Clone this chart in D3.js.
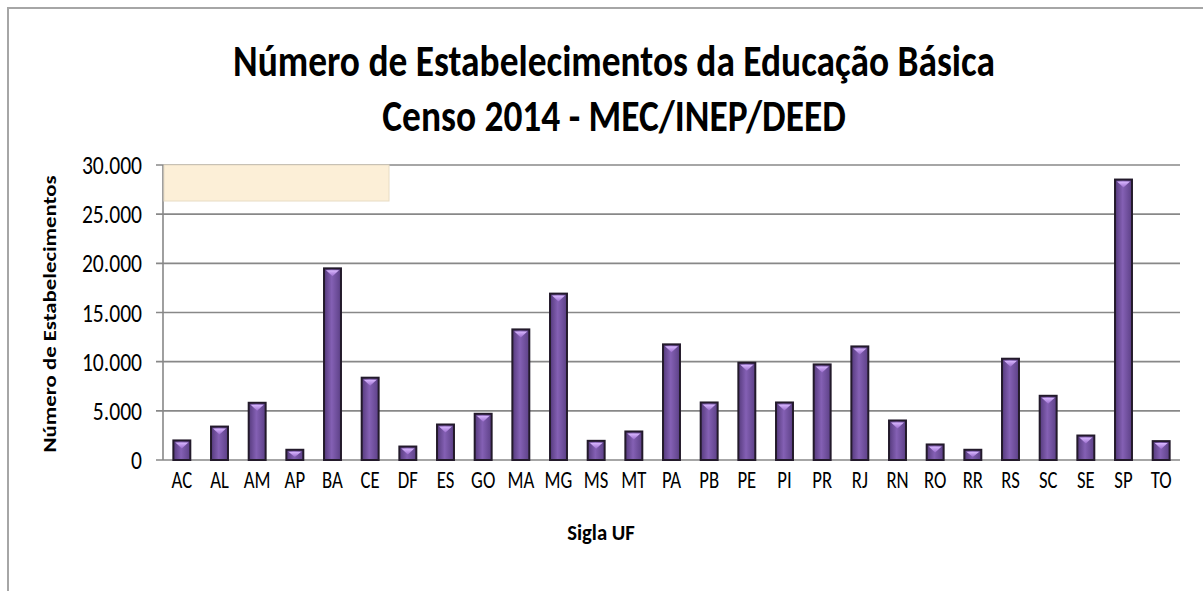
<!DOCTYPE html>
<html>
<head>
<meta charset="utf-8">
<script src="https://cdn.jsdelivr.net/npm/d3@7"></script>
<style>
  body { margin: 0; background: #fff; }
  svg text { font-family: Carlito, "Liberation Sans Narrow", "Open Sans", sans-serif; fill: #000; }
</style>
</head>
<body>
<div class="chart"></div>
<script>
// dados (Censo 2014)
var ufs = ["AC","AL","AM","AP","BA","CE","DF","ES","GO","MA","MG","MS","MT","PA",
           "PB","PE","PI","PR","RJ","RN","RO","RR","RS","SC","SE","SP","TO"];
var estab = [1990, 3400, 5820, 1040, 19490, 8370, 1370, 3610, 4700, 13280, 16920, 1950, 2900, 11760,
             5850, 9890, 5850, 9720, 11550, 4020, 1580, 1040, 10300, 6530, 2490, 28520, 1920];
var yTicks = [0, 5000, 10000, 15000, 20000, 25000, 30000];
var titleLines = ["Número de Estabelecimentos da Educação Básica", "Censo 2014 - MEC/INEP/DEED"];

var W = 1203, H = 591;
var margin = {top: 165, right: 23, bottom: 131, left: 163},
    width = W - margin.left - margin.right,
    height = H - margin.top - margin.bottom;

// o texto original esta esticado na vertical
function squeeze(sel, px, py, sx) {
  sel.attr("transform", "translate(" + px + "," + py + ") scale(" + sx + ",1)");
}

var svg = d3.select(".chart").append("svg")
    .attr("width", W)
    .attr("height", H);

// moldura
svg.append("path")
    .attr("d", "M8," + H + "V8H" + W)
    .attr("fill", "none")
    .attr("stroke", "#a6a6a6")
    .attr("stroke-width", 2);

var defs = svg.append("defs");
var grad = defs.append("linearGradient").attr("id", "barGrad")
    .attr("x1", "0%").attr("x2", "100%").attr("y1", "0%").attr("y2", "0%");
grad.append("stop").attr("offset", "0%").attr("stop-color", "#553a7c");
grad.append("stop").attr("offset", "45%").attr("stop-color", "#8460b4");
grad.append("stop").attr("offset", "100%").attr("stop-color", "#5c4086");
var hi = defs.append("linearGradient").attr("id", "hiGrad")
    .attr("x1", "0%").attr("x2", "0%").attr("y1", "0%").attr("y2", "100%");
hi.append("stop").attr("offset", "0%").attr("stop-color", "#d9b8ff");
hi.append("stop").attr("offset", "100%").attr("stop-color", "#9a6ccc");

var g = svg.append("g")
    .attr("transform", "translate(" + margin.left + "," + margin.top + ")");

var x = d3.scaleBand()
    .domain(ufs)
    .range([0, width])
    .paddingInner(0.55)
    .paddingOuter(0.275);

var y = d3.scaleLinear()
    .domain([0, 30000])
    .range([height, 0]);

var fmt = function(d){ return d3.format(",")(d).replace(/,/g, "."); };

// linhas de grade
g.append("g").attr("class", "grid")
    .selectAll("line")
    .data(yTicks)
  .enter().append("line")
    .attr("x1", -7)
    .attr("x2", width)
    .attr("y1", function(d){ return y(d); })
    .attr("y2", function(d){ return y(d); })
    .attr("stroke", "#888")
    .attr("stroke-width", 1.6);

// eixo y
g.append("line")
    .attr("x1", 0).attr("x2", 0)
    .attr("y1", 0).attr("y2", height)
    .attr("stroke", "#888")
    .attr("stroke-width", 1.6);

g.selectAll(".ytick")
    .data(yTicks)
  .enter().append("text")
    .attr("class", "ytick")
    .attr("dy", "0.35em")
    .attr("text-anchor", "end")
    .style("font-size", "26px")
    .text(fmt)
    .each(function(d){ squeeze(d3.select(this), -21, y(d), 0.83); });

// caixa bege (legenda vazia)
g.append("rect")
    .attr("x", 1)
    .attr("y", 0)
    .attr("width", 225)
    .attr("height", 36)
    .attr("fill", "#fcefd7")
    .attr("stroke", "#e8dcc4")
    .attr("stroke-width", 1);

// barras
var bars = g.selectAll(".bar")
    .data(estab)
  .enter().append("g")
    .attr("class", "bar");

bars.append("rect")
    .attr("x", function(d, i){ return x(ufs[i]); })
    .attr("y", function(d){ return y(d); })
    .attr("width", x.bandwidth())
    .attr("height", function(d){ return height - y(d); })
    .attr("fill", "url(#barGrad)")
    .attr("stroke", "#231a2b")
    .attr("stroke-width", 2);

bars.append("path")
    .attr("d", function(d, i){
      var x0 = x(ufs[i]) + 2, x1 = x(ufs[i]) + x.bandwidth() - 2, t = y(d) + 2;
      var h = Math.min(6, (height - y(d)) / 2);
      return "M" + x0 + "," + t + "H" + x1 + "L" + ((x0 + x1) / 2) + "," + (t + h) + "Z";
    })
    .attr("fill", "url(#hiGrad)");

// rotulos do eixo x
g.selectAll(".xtick")
    .data(ufs)
  .enter().append("text")
    .attr("class", "xtick")
    .attr("text-anchor", "middle")
    .style("font-size", "24px")
    .text(function(d){ return d; })
    .each(function(d){ squeeze(d3.select(this), x(d) + x.bandwidth() / 2, height + 28, 0.78); });

// titulos dos eixos
svg.append("text")
    .attr("text-anchor", "middle")
    .style("font-size", "23px")
    .style("font-weight", "bold")
    .text("Sigla UF")
    .call(squeeze, 601, 540, 0.9);

svg.append("text")
    .attr("transform", "translate(56,314) rotate(-90) scale(1.2,1)")
    .attr("text-anchor", "middle")
    .style("font-size", "19px")
    .style("font-weight", "bold")
    .text("Número de Estabelecimentos");

// titulo
svg.selectAll(".title")
    .data(titleLines)
  .enter().append("text")
    .attr("class", "title")
    .attr("text-anchor", "middle")
    .style("font-size", "44px")
    .style("font-weight", "bold")
    .text(function(d){ return d; })
    .each(function(d, i){ squeeze(d3.select(this), 614, 76 + i * 55, 0.85); });
</script>
</body>
</html>
